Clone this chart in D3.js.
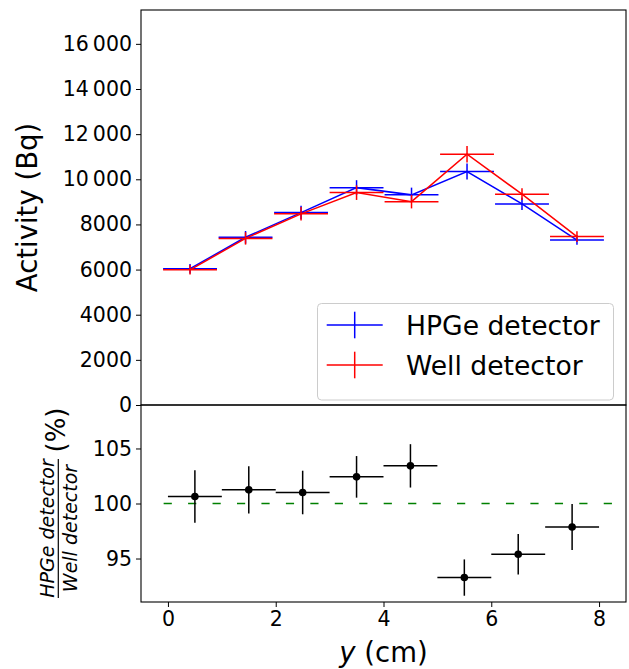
<!DOCTYPE html>
<html>
<head>
<meta charset="utf-8">
<script src="https://cdn.jsdelivr.net/npm/d3@7"></script>
<style>
  html, body { margin: 0; padding: 0; background: #fff; }
  svg { display: block; }
  svg text { font-family: "DejaVu Sans", sans-serif !important; }
</style>
</head>
<body>
<svg id="chart" width="629" height="669"></svg>
<script>
// ---------- data ----------
const seriesNames = ["HPGe detector", "Well detector"];
const seriesColors = ["#0000ff", "#ff0000"];
const xTop = [0.41, 1.44, 2.47, 3.50, 4.52, 5.55, 6.57, 7.59];
const hpgeActivity = [6040, 7430, 8525, 9630, 9310, 10340, 8910, 7310];
const hpgeErr = [210, 280, 300, 330, 320, 355, 275, 210];
const wellActivity = [5990, 7380, 8470, 9410, 9010, 11110, 9340, 7460];
const wellErr = [210, 275, 300, 325, 300, 370, 260, 235];
const xErr = 0.5;

const xRatio = [0.5, 1.5, 2.5, 3.5, 4.5, 5.5, 6.5, 7.5];
const ratioValues = [100.64, 101.24, 101.0, 102.42, 103.42, 93.27, 95.39, 97.87];
const ratioErr = [2.39, 2.14, 1.98, 1.89, 1.97, 1.65, 1.83, 2.09];
const refLevel = 100;
const refLineX = [-0.08, 8.5];

const xTicks = [0, 2, 4, 6, 8];
const xTickLabels = ["0", "2", "4", "6", "8"];
const yTopTicks = [0, 2000, 4000, 6000, 8000, 10000, 12000, 14000, 16000];
const yTopTickLabels = ["0", "2000", "4000", "6000", "8000", "10\u2009000", "12\u2009000", "14\u2009000", "16\u2009000"];
const yBotTicks = [95, 100, 105];
const yBotTickLabels = ["95", "100", "105"];

const xDomain = [-0.5, 8.5];
const yTopDomain = [0, 17500];
const yBotDomain = [91.05, 108.95];

// ---------- layout ----------
const L = 141, R = 626, T = 10, MID = 405, B = 602;
const svg = d3.select("#chart");

const x = d3.scaleLinear().domain(xDomain).range([L, R]);
const yTop = d3.scaleLinear().domain(yTopDomain).range([MID, T]);
const yBot = d3.scaleLinear().domain(yBotDomain).range([B, MID]);

const tickFont = 20.5;

// ---------- top panel ----------
const topG = svg.append("g");
const series = [
  {name: seriesNames[0], color: seriesColors[0], vals: hpgeActivity, err: hpgeErr},
  {name: seriesNames[1], color: seriesColors[1], vals: wellActivity, err: wellErr}
];
const line = d3.line().x((d) => x(d[0])).y((d) => yTop(d[1]));
series.forEach((s) => {
  const pts = xTop.map((xv, i) => [xv, s.vals[i], s.err[i]]);
  topG.append("path").datum(pts).attr("d", line)
    .attr("fill", "none").attr("stroke", s.color).attr("stroke-width", 1.5);
  const eg = topG.append("g");
  eg.selectAll("line.h").data(pts).join("line").attr("class", "h")
    .attr("x1", (d) => x(d[0] - xErr)).attr("x2", (d) => x(d[0] + xErr))
    .attr("y1", (d) => yTop(d[1])).attr("y2", (d) => yTop(d[1]))
    .attr("stroke", s.color).attr("stroke-width", 1.5);
  eg.selectAll("line.v").data(pts).join("line").attr("class", "v")
    .attr("x1", (d) => x(d[0])).attr("x2", (d) => x(d[0]))
    .attr("y1", (d) => yTop(d[1] - d[2])).attr("y2", (d) => yTop(d[1] + d[2]))
    .attr("stroke", s.color).attr("stroke-width", 1.5);
});

function styleAxis(g) {
  g.select(".domain").remove();
  g.attr("font-family", null).attr("font-size", null);
  g.selectAll("text").attr("font-size", tickFont).attr("fill", "#000");
  g.selectAll("line").attr("stroke", "#000");
}

// top y axis
const yTopAxis = d3.axisLeft(yTop).tickValues(yTopTicks)
  .tickFormat((d, i) => yTopTickLabels[i]).tickSize(5).tickPadding(4);
const gyT = svg.append("g").attr("transform", `translate(${L},0)`).call(yTopAxis);
styleAxis(gyT);

// legend
const lg = svg.append("g");
lg.append("rect").attr("x", 317.5).attr("y", 303.5).attr("width", 296).attr("height", 96.5)
  .attr("rx", 4).attr("fill", "#fff").attr("fill-opacity", 0.8)
  .attr("stroke", "#cccccc").attr("stroke-width", 1);
series.forEach((s, i) => {
  const cy = 325 + i * 40;
  lg.append("line").attr("x1", 326.7).attr("x2", 382.7).attr("y1", cy).attr("y2", cy)
    .attr("stroke", s.color).attr("stroke-width", 1.5);
  lg.append("line").attr("x1", 354.7).attr("x2", 354.7).attr("y1", cy - 13.3).attr("y2", cy + 13.3)
    .attr("stroke", s.color).attr("stroke-width", 1.5);
  lg.append("text").attr("x", 406).attr("y", cy).attr("dy", "0.36em")
    .attr("font-size", 26.6).attr("fill", "#000").text(s.name);
});

// ---------- bottom panel ----------
const botG = svg.append("g");
botG.append("line")
  .attr("x1", Math.max(L, x(refLineX[0]))).attr("x2", Math.min(R, x(refLineX[1])))
  .attr("y1", yBot(refLevel)).attr("y2", yBot(refLevel))
  .attr("stroke", "#008000").attr("stroke-width", 1.5).attr("stroke-dasharray", "8.2,16.25");

const rpts = xRatio.map((xv, i) => [xv, ratioValues[i], ratioErr[i]]);
botG.selectAll("line.h").data(rpts).join("line").attr("class", "h")
  .attr("x1", (d) => x(d[0] - xErr)).attr("x2", (d) => x(d[0] + xErr))
  .attr("y1", (d) => yBot(d[1])).attr("y2", (d) => yBot(d[1]))
  .attr("stroke", "#000").attr("stroke-width", 1.5);
botG.selectAll("line.v").data(rpts).join("line").attr("class", "v")
  .attr("x1", (d) => x(d[0])).attr("x2", (d) => x(d[0]))
  .attr("y1", (d) => yBot(d[1] - d[2])).attr("y2", (d) => yBot(d[1] + d[2]))
  .attr("stroke", "#000").attr("stroke-width", 1.5);
botG.selectAll("circle").data(rpts).join("circle")
  .attr("cx", (d) => x(d[0])).attr("cy", (d) => yBot(d[1])).attr("r", 3.8).attr("fill", "#000");

const yBotAxis = d3.axisLeft(yBot).tickValues(yBotTicks)
  .tickFormat((d, i) => yBotTickLabels[i]).tickSize(5).tickPadding(4);
const gyB = svg.append("g").attr("transform", `translate(${L},0)`).call(yBotAxis);
styleAxis(gyB);

const xAxis = d3.axisBottom(x).tickValues(xTicks)
  .tickFormat((d, i) => xTickLabels[i]).tickSize(5).tickPadding(4);
const gx = svg.append("g").attr("transform", `translate(0,${B})`).call(xAxis);
styleAxis(gx);

// frames
svg.append("rect").attr("x", L).attr("y", T).attr("width", R - L).attr("height", MID - T)
  .attr("fill", "none").attr("stroke", "#000").attr("stroke-width", 1.1);
svg.append("rect").attr("x", L).attr("y", MID).attr("width", R - L).attr("height", B - MID)
  .attr("fill", "none").attr("stroke", "#000").attr("stroke-width", 1.1);

// ---------- labels ----------
svg.append("text").attr("transform", `translate(37,${(T + MID) / 2}) rotate(-90)`)
  .attr("text-anchor", "middle").attr("font-size", 27.5).attr("fill", "#000").text("Activity (Bq)");

const xl = svg.append("text").attr("x", (L + R) / 2).attr("y", 662)
  .attr("text-anchor", "middle").attr("font-size", 27.5).attr("fill", "#000");
xl.append("tspan").attr("font-style", "italic").text("y");
xl.append("tspan").text(" (cm)");

const fr = svg.append("g").attr("transform", "translate(58.3,528.5) rotate(-90)");
fr.append("line").attr("x1", -69.5).attr("x2", 69.5).attr("y1", 0).attr("y2", 0)
  .attr("stroke", "#000").attr("stroke-width", 1.2);
fr.append("text").attr("x", 0).attr("y", -4).attr("text-anchor", "middle")
  .attr("font-size", 19).attr("font-style", "italic").attr("fill", "#000").text("HPGe detector");
fr.append("text").attr("x", 0).attr("y", 18.5).attr("text-anchor", "middle")
  .attr("font-size", 19).attr("font-style", "italic").attr("fill", "#000").text("Well detector");
fr.append("text").attr("x", 76).attr("y", 6.5).attr("text-anchor", "start")
  .attr("font-size", 26).attr("fill", "#000").text("(%)");
</script>
</body>
</html>
